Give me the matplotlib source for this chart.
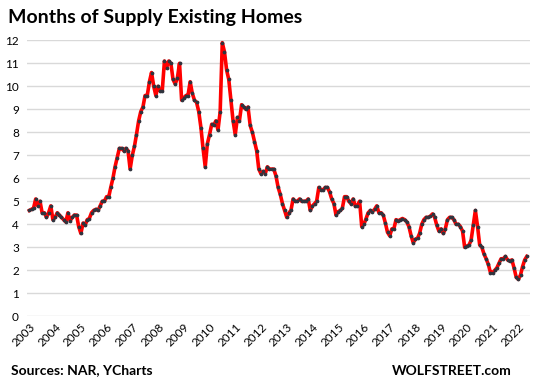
import pandas as pd
import numpy as np
import matplotlib.pyplot as plt
import matplotlib.dates as mdates

# months of supply, monthly, Jan 2003 - May 2022
y2003 = [4.6, 4.65, 4.7, 5.1, 4.8, 5.0, 4.5, 4.5, 4.3, 4.5, 4.8, 4.2]
y2004 = [4.3, 4.5, 4.4, 4.3, 4.2, 4.1, 4.5, 4.15, 4.3, 4.4, 4.4, 3.9]
y2005 = [3.6, 4.05, 3.95, 4.2, 4.25, 4.5, 4.6, 4.65, 4.6, 4.8, 5.0, 5.0]
y2006 = [5.2, 5.2, 5.6, 6.0, 6.5, 6.9, 7.3, 7.3, 7.2, 7.3, 7.2, 6.4]
y2007 = [7.0, 7.4, 7.9, 8.5, 8.9, 9.1, 9.6, 9.6, 10.2, 10.6, 10.0, 9.6]
y2008 = [10.0, 9.8, 9.8, 11.1, 10.8, 11.1, 11.0, 10.3, 10.1, 10.35, 11.0, 9.4]
y2009 = [9.5, 9.6, 9.6, 10.2, 9.7, 9.4, 9.3, 8.9, 8.2, 7.3, 6.5, 7.5]
y2010 = [7.9, 8.35, 8.3, 8.5, 8.1, 8.9, 11.9, 11.5, 10.7, 10.3, 9.4, 8.5]
y2011 = [7.9, 8.65, 8.5, 9.2, 9.1, 9.0, 9.1, 8.3, 8.0, 7.6, 7.2, 6.4]
y2012 = [6.2, 6.3, 6.2, 6.5, 6.4, 6.4, 6.4, 6.1, 5.6, 5.3, 4.9, 4.6]
y2013 = [4.3, 4.5, 4.6, 5.1, 5.0, 5.0, 5.1, 5.0, 5.0, 5.0, 5.1, 4.6]
y2014 = [4.8, 4.9, 5.0, 5.6, 5.5, 5.5, 5.6, 5.6, 5.4, 5.1, 4.9, 4.4]
y2015 = [4.55, 4.6, 4.7, 5.2, 5.2, 5.0, 4.9, 5.1, 4.8, 4.8, 5.0, 3.9]
y2016 = [4.0, 4.25, 4.5, 4.6, 4.55, 4.65, 4.8, 4.5, 4.5, 4.4, 4.05, 3.65]
y2017 = [3.5, 3.8, 3.8, 4.2, 4.15, 4.2, 4.25, 4.2, 4.1, 3.9, 3.5, 3.2]
y2018 = [3.35, 3.4, 3.6, 4.0, 4.2, 4.3, 4.3, 4.35, 4.45, 4.3, 3.95, 3.7]
y2019 = [3.8, 3.6, 3.8, 4.2, 4.3, 4.3, 4.2, 4.0, 4.0, 3.9, 3.7, 3.0]
y2020 = [3.05, 3.1, 3.3, 3.95, 4.6, 3.9, 3.1, 3.0, 2.7, 2.5, 2.25, 1.9]
y2021 = [1.9, 2.0, 2.1, 2.3, 2.5, 2.5, 2.6, 2.45, 2.4, 2.45, 2.1, 1.7]
y2022 = [1.6, 1.8, 2.15, 2.45, 2.6]

supply = (y2003 + y2004 + y2005 + y2006 + y2007 + y2008 + y2009 + y2010 + y2011
          + y2012 + y2013 + y2014 + y2015 + y2016 + y2017 + y2018 + y2019
          + y2020 + y2021 + y2022)
dates = pd.date_range('2003-01-01', periods=len(supply), freq='MS')
years = list(range(2003, 2023))

plt.rcParams['font.family'] = ['Lato', 'DejaVu Sans']

fig = plt.figure(figsize=(5.33, 3.88), dpi=100)
ax = fig.add_axes([0.051, 0.185, 0.944, 0.711])

ax.plot(dates, supply, color='red', linewidth=2.6, zorder=2)
ax.plot(dates, supply, linestyle='none', marker='o', markersize=1.7,
        color='#30343e', zorder=3, clip_on=False)

ax.set_ylim(0, 12)
ax.set_yticks(range(0, 13))
ax.set_xlim(pd.Timestamp('2002-12-01'), pd.Timestamp('2022-06-20'))
ax.set_xticks([pd.Timestamp(f'{y}-01-01') for y in years])
ax.set_xticklabels([str(y) for y in years], rotation=45, ha='right',
                   rotation_mode='anchor', fontsize=8.5)
ax.tick_params(axis='y', labelsize=8.5, length=0, pad=6)
ax.tick_params(axis='x', length=0, pad=4)

ax.grid(axis='y', color='#d9d9d9', linewidth=1)
ax.set_axisbelow(True)
for s in ax.spines.values():
    s.set_visible(False)

fig.text(0.015, 0.955, 'Months of Supply Existing Homes', fontsize=14,
         fontweight='bold', va='center', ha='left')
fig.text(0.02, 0.045, 'Sources: NAR, YCharts', fontsize=10,
         fontweight='bold', va='center', ha='left')
fig.text(0.96, 0.045, 'WOLFSTREET.com', fontsize=10,
         fontweight='bold', va='center', ha='right')

fig.savefig('out.png', dpi=100)
